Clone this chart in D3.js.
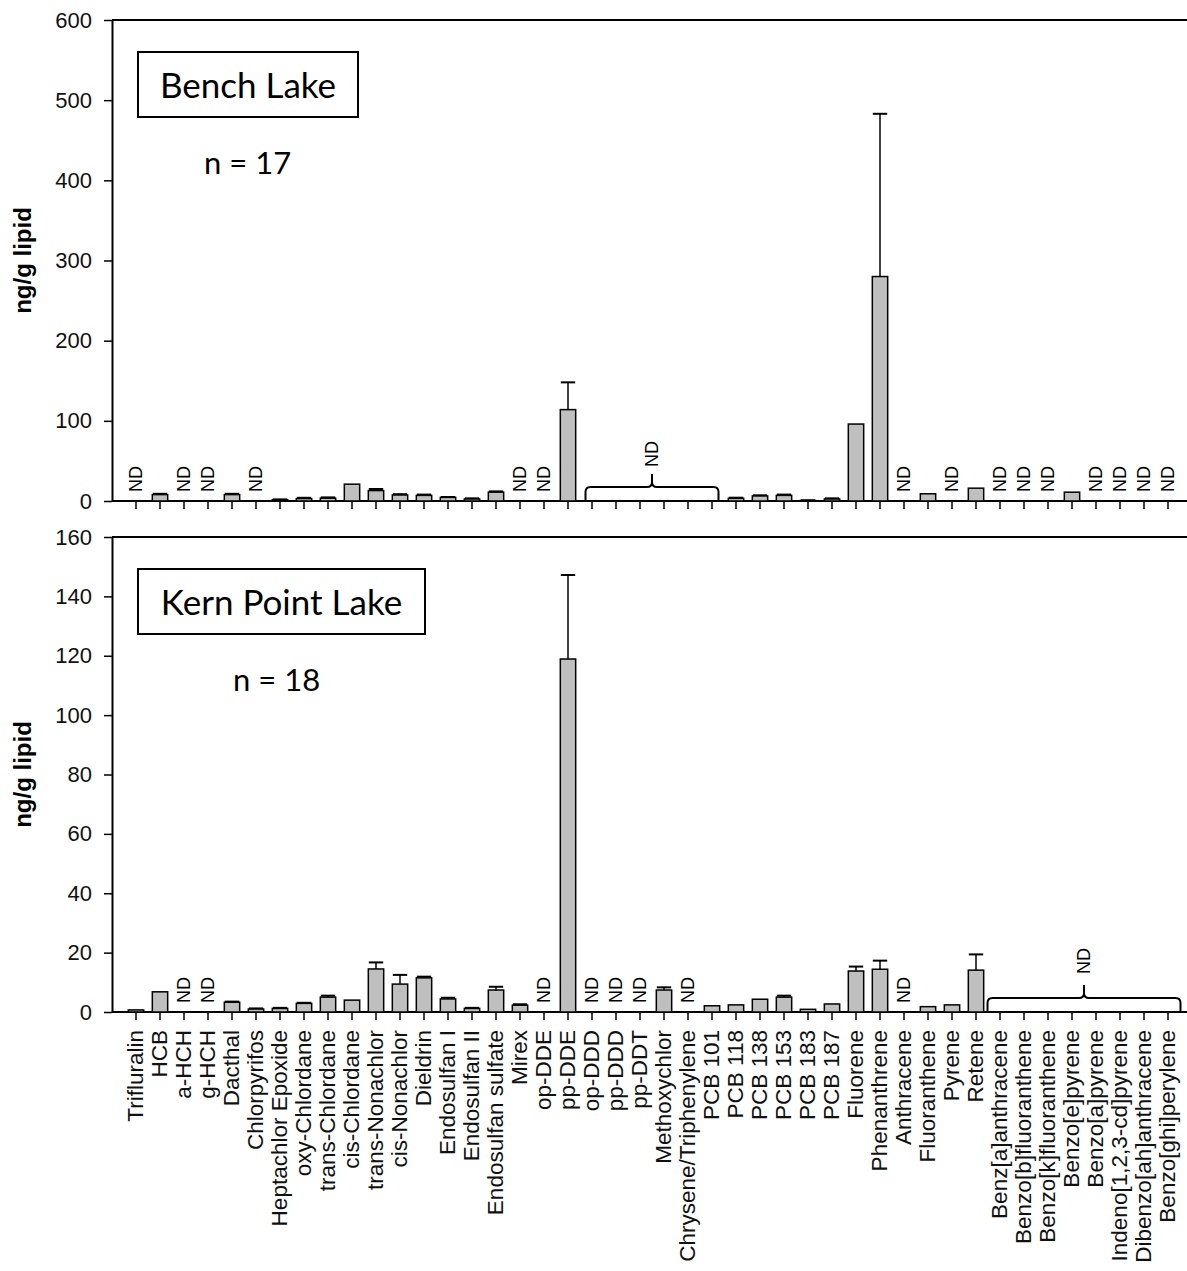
<!DOCTYPE html>
<html>
<head>
<meta charset="utf-8">
<script src="https://cdn.jsdelivr.net/npm/d3@7"></script>
<style>
  body { margin: 0; background: #fff; }
  text { font-family: "Liberation Sans", Arial, sans-serif; }
</style>
</head>
<body>
<svg></svg>
<script>
// categories (x axis, shared by both panels)
const categories = [
  "Trifluralin", "HCB", "a-HCH", "g-HCH", "Dacthal", "Chlorpyrifos",
  "Heptachlor Epoxide", "oxy-Chlordane", "trans-Chlordane", "cis-Chlordane",
  "trans-Nonachlor", "cis-Nonachlor", "Dieldrin", "Endosulfan I", "Endosulfan II",
  "Endosulfan sulfate", "Mirex", "op-DDE", "pp-DDE", "op-DDD", "pp-DDD", "pp-DDT",
  "Methoxychlor", "Chrysene/Triphenylene", "PCB 101", "PCB 118", "PCB 138",
  "PCB 153", "PCB 183", "PCB 187", "Fluorene", "Phenanthrene", "Anthracene",
  "Fluoranthene", "Pyrene", "Retene", "Benz[a]anthracene", "Benzo[b]fluoranthene",
  "Benzo[k]fluoranthene", "Benzo[e]pyrene", "Benzo[a]pyrene",
  "Indeno[1,2,3-cd]pyrene", "Dibenzo[ah]anthracene", "Benzo[ghi]perylene"
];

// Bench Lake (null = ND)
const benchValues = [
  null, 8, null, null, 8, null, 1.5, 3, 3.5, 21,
  13, 7.5, 7, 4.5, 2.5, 11, null, null, 114, null,
  null, null, null, null, null, 3.3, 6.3, 7, 0.6, 2.5,
  96, 280, null, 9, null, 16, null, null, null, 11,
  null, null, null, null
];
const benchErrors = [
  null, 1, null, null, 1, null, 0.5, 1, 1, 0,
  2, 1, 1, 0.5, 0.8, 1, null, null, 34, null,
  null, null, null, null, null, 0.8, 0.8, 1, 0.3, 0.8,
  0, 203, null, 0, null, 0, null, null, null, 0,
  null, null, null, null
];
const benchBracket = ["op-DDD", "PCB 101"];
const benchTicks = [0, 100, 200, 300, 400, 500, 600];

// Kern Point Lake (null = ND)
const kernValues = [
  0.7, 6.8, null, null, 3.3, 1.0, 1.2, 2.9, 5.0, 4.0,
  14.5, 9.4, 11.5, 4.4, 1.2, 7.4, 2.3, null, 118.9, null,
  null, null, 7.4, null, 2.1, 2.4, 4.3, 5.0, 0.9, 2.7,
  13.8, 14.4, null, 1.8, 2.4, 14.1, null, null, null, null,
  null, null, null, null
];
const kernErrors = [
  0, 0, null, null, 0.2, 0.2, 0.2, 0.2, 0.5, 0,
  2.2, 3.1, 0.4, 0.4, 0.2, 1.1, 0.3, null, 28.3, null,
  null, null, 0.9, null, 0, 0, 0, 0.5, 0, 0,
  1.5, 2.9, null, 0, 0, 5.3, null, null, null, null,
  null, null, null, null
];
const kernBracket = ["Benz[a]anthracene", "Benzo[ghi]perylene"];
const kernTicks = [0, 20, 40, 60, 80, 100, 120, 140, 160];

const W = 1187, H = 1271;
const left = 112, right = 1187;

const svg = d3.select("svg").attr("width", W).attr("height", H);

// band scale: step 24, first center at 136
const x = d3.scaleBand()
  .domain(categories)
  .range([124, 1180])
  .paddingInner(0.36)
  .paddingOuter(0.18);

function drawPanel(p) {
  const g = svg.append("g");
  const y = d3.scaleLinear().domain([0, p.max]).range([p.bottom, p.top]);

  // top frame line
  g.append("line")
    .attr("x1", left).attr("x2", right)
    .attr("y1", p.top).attr("y2", p.top)
    .attr("stroke", "#000").attr("stroke-width", 2);

  // y axis
  const ya = g.append("g")
    .attr("transform", `translate(${left},0)`)
    .call(d3.axisLeft(y).tickValues(p.ticks).tickSize(8).tickPadding(12).tickSizeOuter(0));
  ya.select(".domain").attr("stroke-width", 2);
  ya.selectAll(".tick line").attr("stroke-width", 1.5);
  ya.selectAll("text").attr("font-size", 22).attr("fill", "#111")
    .style("font-family", "'Liberation Sans', Arial, sans-serif");

  // y title
  g.append("text")
    .attr("transform", `translate(31,${(p.top + p.bottom) / 2}) rotate(-90)`)
    .attr("text-anchor", "middle")
    .attr("font-size", 24).attr("font-weight", "bold")
    .text("ng/g lipid");

  // x axis
  const xa = g.append("g")
    .attr("transform", `translate(0,${p.bottom})`)
    .call(d3.axisBottom(x).tickSize(8).tickSizeOuter(0).tickFormat(""));
  xa.select(".domain").remove();
  xa.selectAll(".tick line").attr("stroke-width", 1.5);
  g.append("line")
    .attr("x1", left).attr("x2", right)
    .attr("y1", p.bottom).attr("y2", p.bottom)
    .attr("stroke", "#000").attr("stroke-width", 2);

  const rows = categories.map((c, i) => ({ c, v: p.values[i], e: p.errors[i], i }));
  const b0 = categories.indexOf(p.bracket[0]), b1 = categories.indexOf(p.bracket[1]);

  // error bars (upper only)
  const eb = rows.filter(d => d.v != null && d.e > 0);
  g.selectAll(".err").data(eb).enter().append("line")
    .attr("x1", d => x(d.c) + x.bandwidth() / 2)
    .attr("x2", d => x(d.c) + x.bandwidth() / 2)
    .attr("y1", d => y(d.v)).attr("y2", d => y(d.v + d.e))
    .attr("stroke", "#000").attr("stroke-width", 1.5);
  g.selectAll(".cap").data(eb).enter().append("line")
    .attr("x1", d => x(d.c) + 0.5).attr("x2", d => x(d.c) + x.bandwidth() - 0.5)
    .attr("y1", d => y(d.v + d.e)).attr("y2", d => y(d.v + d.e))
    .attr("stroke", "#000").attr("stroke-width", 2);

  // bars
  g.selectAll(".bar").data(rows.filter(d => d.v != null)).enter().append("rect")
    .attr("x", d => x(d.c))
    .attr("width", x.bandwidth())
    .attr("y", d => y(d.v))
    .attr("height", d => y(0) - y(d.v))
    .attr("fill", "#bfbfbf")
    .attr("stroke", "#000").attr("stroke-width", 1.5);

  // individual ND labels
  g.selectAll(".nd").data(rows.filter(d => d.v == null && (d.i < b0 || d.i > b1))).enter()
    .append("text")
    .attr("transform", d => `translate(${x(d.c) + x.bandwidth() / 2},${p.bottom - 9}) rotate(-90)`)
    .attr("dy", "0.36em")
    .attr("font-size", 18)
    .text("ND");

  // bracket over a run of ND categories
  const bx1 = x(p.bracket[0]) + x.bandwidth() / 2 - p.bracketPad;
  const bx2 = x(p.bracket[1]) + x.bandwidth() / 2 + p.bracketPad;
  const xm = (bx1 + bx2) / 2;
  const base = p.bottom - 0.5, h = p.bottom - 14, apex = p.bottom - 27, r = 5;
  const path = d3.path();
  path.moveTo(bx1, base);
  path.lineTo(bx1, h + r);
  path.quadraticCurveTo(bx1, h, bx1 + r, h);
  path.lineTo(xm - r, h);
  path.quadraticCurveTo(xm, h, xm, h - r);
  path.lineTo(xm, apex);
  path.moveTo(xm, h - r);
  path.quadraticCurveTo(xm, h, xm + r, h);
  path.lineTo(bx2 - r, h);
  path.quadraticCurveTo(bx2, h, bx2, h + r);
  path.lineTo(bx2, base);
  g.append("path").attr("d", path.toString())
    .attr("fill", "none").attr("stroke", "#000").attr("stroke-width", 2);
  g.append("text")
    .attr("transform", `translate(${xm},${apex - p.ndGap}) rotate(-90)`)
    .attr("dy", "0.36em")
    .attr("font-size", 18)
    .text("ND");

  // lake label box
  g.append("rect")
    .attr("x", 138).attr("y", p.top + 32)
    .attr("width", p.boxW).attr("height", 65)
    .attr("fill", "#fff").attr("stroke", "#000").attr("stroke-width", 2);
  g.append("text")
    .attr("x", 138 + p.boxW / 2).attr("y", p.top + 78)
    .attr("text-anchor", "middle")
    .style("font-family", "Lato, 'Open Sans', sans-serif")
    .attr("font-size", 35)
    .text(p.name);
  g.append("text")
    .attr("x", p.nX).attr("y", p.top + 154)
    .style("font-family", "Lato, 'Open Sans', sans-serif")
    .attr("font-size", 31)
    .text(p.n);

  return g;
}

drawPanel({
  name: "Bench Lake", n: "n = 17", top: 20, bottom: 501, max: 600,
  ticks: benchTicks, values: benchValues, errors: benchErrors,
  bracket: benchBracket, bracketPad: 6.5, ndGap: 7, boxW: 220, nX: 204
});

const kern = drawPanel({
  name: "Kern Point Lake", n: "n = 18", top: 537, bottom: 1012, max: 160,
  ticks: kernTicks, values: kernValues, errors: kernErrors,
  bracket: kernBracket, bracketPad: 12.5, ndGap: 11, boxW: 287, nX: 233
});

// category labels under the lower panel
kern.selectAll(".xlab").data(categories).enter().append("text")
  .attr("transform", d => `translate(${x(d) + x.bandwidth() / 2},1030) rotate(-90)`)
  .attr("text-anchor", "end")
  .attr("dy", "0.33em")
  .attr("font-size", 22.5)
  .attr("fill", "#111")
  .text(d => d);
</script>
</body>
</html>
